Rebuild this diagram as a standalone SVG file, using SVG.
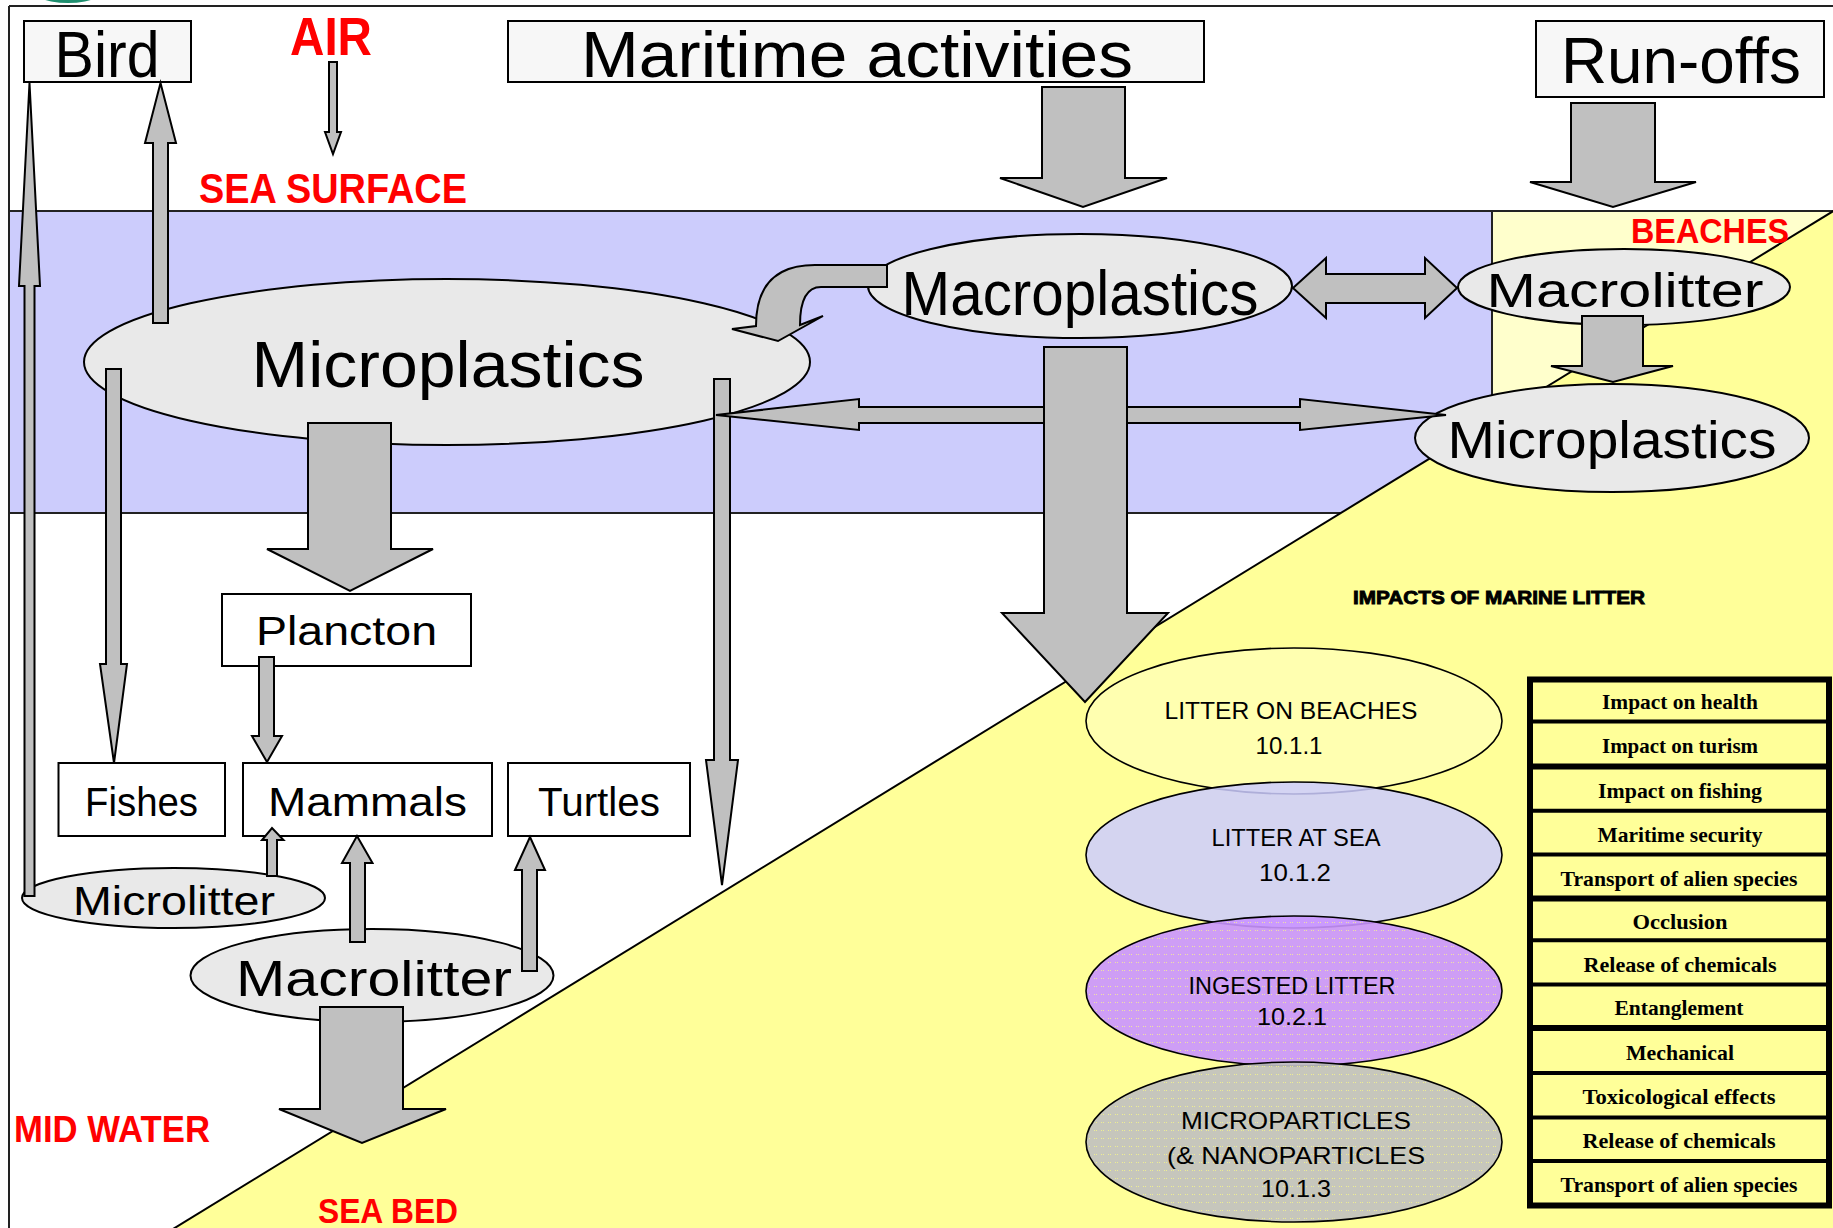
<svg xmlns="http://www.w3.org/2000/svg" width="1833" height="1228" viewBox="0 0 1833 1228">
<defs>
<style>
.bg{stroke:#222;stroke-width:2}
.box{fill:#fff;stroke:#000;stroke-width:2}
.boxg{fill:#f7f7f7;stroke:#000;stroke-width:2}
.ell{fill:#e9e9e9;stroke:#000;stroke-width:2}
.arr{fill:#c0c0c0;stroke:#000;stroke-width:2;stroke-linejoin:miter}
.t{font-family:"Liberation Sans",Arial,sans-serif;fill:#000;text-anchor:middle}
.red{font-family:"Liberation Sans",Arial,sans-serif;font-weight:bold;fill:#ff0000}
.imp{stroke:#000;stroke-width:1.6}
.it{font-family:"Liberation Sans",Arial,sans-serif;font-size:24px;fill:#000;text-anchor:middle}
.tt{font-family:"Liberation Serif","Times New Roman",serif;font-weight:bold;font-size:21px;fill:#000;text-anchor:middle}
.sep{stroke:#000;stroke-width:4}
.sepb{stroke:#000;stroke-width:6}
</style>
<pattern id="dots" width="7" height="8" patternUnits="userSpaceOnUse">
<rect x="2" y="2" width="1" height="1" fill="#ffff80" fill-opacity="0.7"/>
<rect x="4" y="2" width="1" height="1" fill="#ffff80" fill-opacity="0.7"/>
</pattern>
</defs>

<!-- background -->
<g id="background">
<rect x="0" y="0" width="1833" height="1228" fill="#fff"/>
<ellipse cx="68" cy="-18" rx="44" ry="21" fill="#1f8f6f"/>
<rect class="bg" x="9" y="211" width="1483" height="302" fill="#ccccfc"/>
<rect class="bg" x="1492" y="211" width="345" height="320" fill="#ffffcc"/>
<polygon points="1833,211 174,1228 1833,1228" fill="#ffff99"/>
<line x1="1835" y1="210" x2="173" y2="1229" stroke="#000" stroke-width="2"/>
<line x1="9" y1="6" x2="1833" y2="6" stroke="#222" stroke-width="2"/>
<line x1="9" y1="6" x2="9" y2="1228" stroke="#222" stroke-width="2"/>
</g>

<!-- zone labels -->
<g id="labels">
<text class="red" x="290" y="55" font-size="53" textLength="82" lengthAdjust="spacingAndGlyphs">AIR</text>
<text class="red" x="199" y="203" font-size="42" textLength="268" lengthAdjust="spacingAndGlyphs">SEA SURFACE</text>
<text class="red" x="1631" y="243" font-size="35" textLength="158" lengthAdjust="spacingAndGlyphs">BEACHES</text>
<text class="red" x="14" y="1142" font-size="37" textLength="196" lengthAdjust="spacingAndGlyphs">MID WATER</text>
<text class="red" x="318" y="1223" font-size="35" textLength="140" lengthAdjust="spacingAndGlyphs">SEA BED</text>
<text x="1353" y="604" font-family="'Liberation Sans',Arial,sans-serif" font-weight="900" font-size="19" stroke="#000" stroke-width="0.9" textLength="292" lengthAdjust="spacingAndGlyphs">IMPACTS OF MARINE LITTER</text>
</g>

<!-- nodes -->
<g id="bird"><rect class="boxg" x="24" y="21" width="167" height="61"/><text class="t" x="107" y="77" font-size="65" textLength="105" lengthAdjust="spacingAndGlyphs">Bird</text></g>
<g id="maritime"><rect class="boxg" x="508" y="21" width="696" height="61"/><text class="t" x="857" y="77" font-size="65" textLength="552" lengthAdjust="spacingAndGlyphs">Maritime activities</text></g>
<g id="runoffs"><rect class="boxg" x="1536" y="21" width="288" height="76"/><text class="t" x="1681" y="83" font-size="65" textLength="240" lengthAdjust="spacingAndGlyphs">Run-offs</text></g>

<g id="microplastics-sea"><ellipse class="ell" cx="447" cy="362" rx="363" ry="83"/><text class="t" x="448" y="387" font-size="64" textLength="393" lengthAdjust="spacingAndGlyphs">Microplastics</text></g>
<g id="macroplastics"><ellipse class="ell" cx="1080" cy="286" rx="212" ry="52"/><text class="t" x="1080" y="315" font-size="63" textLength="357" lengthAdjust="spacingAndGlyphs">Macroplastics</text></g>
<g id="macrolitter-beach"><ellipse class="ell" cx="1624" cy="287" rx="166" ry="38"/><text class="t" x="1625" y="307" font-size="49" textLength="277" lengthAdjust="spacingAndGlyphs">Macrolitter</text></g>
<g id="microplastics-beach"><ellipse class="ell" cx="1612" cy="438" rx="197" ry="54"/><text class="t" x="1612" y="458" font-size="51" textLength="329" lengthAdjust="spacingAndGlyphs">Microplastics</text></g>

<g id="plancton"><rect class="box" x="222" y="594" width="249" height="72"/><text class="t" x="346.5" y="645" font-size="40" textLength="181" lengthAdjust="spacingAndGlyphs">Plancton</text></g>
<g id="fishes"><rect class="box" x="58.5" y="763" width="166.5" height="73"/><text class="t" x="141.5" y="816" font-size="40" textLength="113" lengthAdjust="spacingAndGlyphs">Fishes</text></g>
<g id="mammals"><rect class="box" x="243" y="763" width="249" height="73"/><text class="t" x="367.5" y="816" font-size="40" textLength="199" lengthAdjust="spacingAndGlyphs">Mammals</text></g>
<g id="turtles"><rect class="box" x="508" y="763" width="182" height="73"/><text class="t" x="599" y="816" font-size="40" textLength="122" lengthAdjust="spacingAndGlyphs">Turtles</text></g>

<g id="microlitter"><ellipse class="ell" cx="173.5" cy="898" rx="151.5" ry="30"/><text class="t" x="174" y="915" font-size="40" textLength="202" lengthAdjust="spacingAndGlyphs">Microlitter</text></g>
<g id="macrolitter-mid"><ellipse class="ell" cx="372" cy="975.5" rx="181.5" ry="46.5"/><text class="t" x="374" y="996" font-size="50" textLength="276" lengthAdjust="spacingAndGlyphs">Macrolitter</text></g>

<g id="litter-beaches"><ellipse class="imp" cx="1294" cy="721" rx="208" ry="73" fill="#ffffb0"/>
<text class="it" x="1291" y="719" textLength="253" lengthAdjust="spacingAndGlyphs">LITTER ON BEACHES</text>
<text class="it" x="1289" y="754" textLength="67" lengthAdjust="spacingAndGlyphs">10.1.1</text></g>
<g id="litter-sea"><ellipse class="imp" cx="1294" cy="855" rx="208" ry="73" fill="#ccccff" fill-opacity="0.85"/>
<text class="it" x="1296" y="846" textLength="169" lengthAdjust="spacingAndGlyphs">LITTER AT SEA</text>
<text class="it" x="1295" y="881" textLength="72" lengthAdjust="spacingAndGlyphs">10.1.2</text></g>
<g id="ingested"><ellipse class="imp" cx="1294" cy="991" rx="208" ry="75" fill="#c994ff" fill-opacity="0.9"/>
<ellipse cx="1294" cy="991" rx="206" ry="73" fill="url(#dots)"/>
<text class="it" x="1292" y="994" textLength="207" lengthAdjust="spacingAndGlyphs">INGESTED LITTER</text>
<text class="it" x="1292" y="1025" textLength="70" lengthAdjust="spacingAndGlyphs">10.2.1</text></g>
<g id="microparticles"><ellipse class="imp" cx="1294" cy="1142" rx="208" ry="80" fill="#c0c0c0" fill-opacity="0.9"/>
<ellipse cx="1294" cy="1142" rx="206" ry="78" fill="url(#dots)"/>
<text class="it" x="1296" y="1129" textLength="230" lengthAdjust="spacingAndGlyphs">MICROPARTICLES</text>
<text class="it" x="1296" y="1164" textLength="258" lengthAdjust="spacingAndGlyphs">(&amp; NANOPARTICLES</text>
<text class="it" x="1296" y="1197" textLength="70" lengthAdjust="spacingAndGlyphs">10.1.3</text></g>

<g id="impacts-table">
<rect x="1530" y="679.5" width="299" height="526" fill="#ffff99" stroke="#000" stroke-width="6"/>
<line class="sep" x1="1530" y1="721.6" x2="1829" y2="721.6"/>
<line class="sepb" x1="1530" y1="766.6" x2="1829" y2="766.6"/>
<line class="sep" x1="1530" y1="810.8" x2="1829" y2="810.8"/>
<line class="sep" x1="1530" y1="854.6" x2="1829" y2="854.6"/>
<line class="sepb" x1="1530" y1="898.4" x2="1829" y2="898.4"/>
<line class="sep" x1="1530" y1="940.3" x2="1829" y2="940.3"/>
<line class="sep" x1="1530" y1="984.5" x2="1829" y2="984.5"/>
<line class="sepb" x1="1530" y1="1028" x2="1829" y2="1028"/>
<line class="sep" x1="1530" y1="1073" x2="1829" y2="1073"/>
<line class="sep" x1="1530" y1="1117.5" x2="1829" y2="1117.5"/>
<line class="sep" x1="1530" y1="1161" x2="1829" y2="1161"/>
<text class="tt" x="1680" y="709" textLength="156" lengthAdjust="spacingAndGlyphs">Impact on health</text>
<text class="tt" x="1680" y="753" textLength="156" lengthAdjust="spacingAndGlyphs">Impact on turism</text>
<text class="tt" x="1680" y="797.5" textLength="164" lengthAdjust="spacingAndGlyphs">Impact on fishing</text>
<text class="tt" x="1680" y="841.5" textLength="165" lengthAdjust="spacingAndGlyphs">Maritime security</text>
<text class="tt" x="1679" y="885.5" textLength="237" lengthAdjust="spacingAndGlyphs">Transport of alien species</text>
<text class="tt" x="1680" y="928.5" textLength="95" lengthAdjust="spacingAndGlyphs">Occlusion</text>
<text class="tt" x="1680" y="971.5" textLength="193" lengthAdjust="spacingAndGlyphs">Release of chemicals</text>
<text class="tt" x="1679" y="1015" textLength="129" lengthAdjust="spacingAndGlyphs">Entanglement</text>
<text class="tt" x="1680" y="1059.5" textLength="108" lengthAdjust="spacingAndGlyphs">Mechanical</text>
<text class="tt" x="1679" y="1104" textLength="193" lengthAdjust="spacingAndGlyphs">Toxicological effects</text>
<text class="tt" x="1679" y="1148" textLength="193" lengthAdjust="spacingAndGlyphs">Release of chemicals</text>
<text class="tt" x="1679" y="1192" textLength="237" lengthAdjust="spacingAndGlyphs">Transport of alien species</text>
</g>

<!-- connectors -->
<g id="connectors">
<polygon class="arr" points="329,62 337,62 337,132 341,132 333,154 325,132 329,132"/>
<polygon class="arr" points="1042,87 1125,87 1125,178 1167,178 1083,207 1000,178 1042,178"/>
<polygon class="arr" points="1571,103 1655,103 1655,182 1696,182 1613,207 1530,182 1571,182"/>
<polygon class="arr" points="153,323 168,323 168,143 176,143 160.5,83 145,143 153,143"/>
<polygon class="arr" points="24.5,896 34.5,896 34.5,286 40,286 29.5,83 19,286 24.5,286"/>
<polygon class="arr" points="106,369 121,369 121,664 127,664 114,763 100,664 106,664"/>
<polygon class="arr" points="308,423 391,423 391,549 433,549 350,591 267,549 308,549"/>
<polygon class="arr" points="714,379 730,379 730,760 738,760 722,885 706,760 714,760"/>
<polygon class="arr" points="716,415 859,399 859,407 1300,407 1300,399 1446,415 1300,430 1300,423 859,423 859,430"/>
<polygon class="arr" points="1044,347 1127,347 1127,613 1168,613 1085,702 1002,613 1044,613"/>
<polygon class="arr" points="1293,288 1326,258 1326,274 1425,274 1425,258 1457,288 1425,318 1425,303 1326,303 1326,318"/>
<polygon class="arr" points="1582,316 1643,316 1643,366 1673,366 1613,382 1551,366 1582,366"/>
<path class="arr" d="M887,265 L815,265 Q756,265 756,326 L732,329 L778,341 L823,316 L800,325 Q800,287 821,287 L887,287 Z"/>
<polygon class="arr" points="259,657 274,657 274,736 282,736 267,762 252,736 259,736"/>
<polygon class="arr" points="267,876 277,876 277,840 283.5,840 272,828 262,840 267,840"/>
<polygon class="arr" points="350,942 365,942 365,863 372.5,863 357,836 342,863 350,863"/>
<polygon class="arr" points="522,971 537,971 537,870 545,870 530,837 515,870 522,870"/>
<polygon class="arr" points="320,1007 403,1007 403,1109 446,1109 362,1143 279,1109 320,1109"/>
</g>
</svg>
